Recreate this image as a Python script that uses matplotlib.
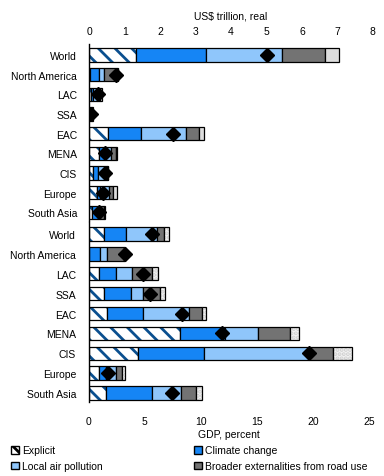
import numpy as np
import matplotlib.pyplot as plt
from matplotlib.patches import Patch

plt.rcParams['font.family'] = ['Liberation Sans', 'DejaVu Sans']
plt.rcParams['font.size'] = 7.5
plt.rcParams['hatch.linewidth'] = 2.0

regions = ["World", "North America", "LAC", "SSA", "EAC", "MENA", "CIS",
           "Europe", "South Asia"]

# top panel: US$ trillion, real
explicit_usd = [1.31, 0.02, 0.03, 0.01, 0.53, 0.28, 0.10, 0.21, 0.07]
climate_usd = [1.98, 0.24, 0.08, 0.03, 0.93, 0.17, 0.14, 0.09, 0.17]
local_usd = [2.15, 0.14, 0.09, 0.02, 1.26, 0.17, 0.26, 0.25, 0.07]
broader_usd = [1.21, 0.40, 0.11, 0.02, 0.37, 0.12, 0.02, 0.12, 0.09]
other_usd = [0.40, 0.01, 0.05, 0.01, 0.14, 0.03, 0.01, 0.10, 0.03]
marker_usd = [5.00, 0.74, 0.24, 0.05, 2.36, 0.45, 0.43, 0.37, 0.27]

# bottom panel: GDP, percent
explicit_pct = [1.33, 0.05, 0.95, 1.33, 1.65, 8.17, 4.40, 0.95, 1.50]
climate_pct = [2.02, 0.98, 1.45, 2.47, 3.15, 4.01, 5.87, 0.60, 4.13]
local_pct = [2.70, 0.62, 1.48, 1.07, 4.10, 2.94, 9.33, 0.85, 2.56]
broader_pct = [0.69, 1.52, 1.78, 1.46, 1.20, 2.81, 2.16, 0.59, 1.36]
other_pct = [0.44, 0.02, 0.53, 0.50, 0.37, 0.80, 1.69, 0.27, 0.50]
marker_pct = [5.63, 3.26, 4.80, 5.50, 8.33, 11.86, 19.60, 1.72, 7.41]

hatch_col = "#0a4f8f"
blue = "#1585f5"
light_blue = "#8fc6fb"
dark_gray = "#737373"

fig = plt.figure(figsize=(3.84, 4.77), dpi=100)
ax_top = fig.add_axes([0.233, 0.5346, 0.7377, 0.371])
ax_bot = fig.add_axes([0.231, 0.155, 0.7308, 0.3775])

y = np.arange(len(regions))
h = 0.68


def draw_panel(ax, segs, marks, last_col, last_hatch):
    left = np.zeros(len(regions))
    # explicit: hatched
    ax.barh(y, segs[0], h, left=left, color="white", edgecolor=hatch_col,
            hatch="\\\\", linewidth=0)
    ax.barh(y, segs[0], h, left=left, fill=False, edgecolor="black",
            linewidth=0.9)
    left = left + np.array(segs[0])
    for vals, col in zip(segs[1:4], [blue, light_blue, dark_gray]):
        ax.barh(y, vals, h, left=left, color=col, edgecolor="black",
                linewidth=0.9)
        left = left + np.array(vals)
    if last_hatch:
        ax.barh(y, segs[4], h, left=left, color=last_col, edgecolor="#cfcfcf",
                hatch="....", linewidth=0)
        ax.barh(y, segs[4], h, left=left, fill=False, edgecolor="black",
                linewidth=0.9)
    else:
        ax.barh(y, segs[4], h, left=left, color=last_col, edgecolor="black",
                linewidth=0.9)
    ax.plot(marks, y, "D", color="black", markersize=7, zorder=5)
    for s in ["top", "right", "bottom"]:
        ax.spines[s].set_visible(False)
    ax.spines["left"].set_linewidth(1.0)
    ax.set_yticks(y)
    ax.set_yticklabels(regions)
    ax.tick_params(axis="y", length=0, pad=9)
    ax.tick_params(axis="x", length=0)


draw_panel(ax_top, [explicit_usd, climate_usd, local_usd, broader_usd, other_usd],
           marker_usd, "#dddddd", False)
ax_top.set_xlim(0, 8)
ax_top.set_ylim(8.44, -0.56)
ax_top.xaxis.tick_top()
ax_top.xaxis.set_label_position("top")
ax_top.set_xticks(range(0, 9))
ax_top.tick_params(axis="x", pad=6)
ax_top.set_xlabel("US$ trillion, real", labelpad=5)

draw_panel(ax_bot, [explicit_pct, climate_pct, local_pct, broader_pct, other_pct],
           marker_pct, "#f3f3f3", True)
ax_bot.set_xlim(0, 25)
ax_bot.set_ylim(8.45, -0.6)
ax_bot.set_xticks(range(0, 26, 5))
ax_bot.tick_params(axis="x", pad=10)
ax_bot.set_xlabel("GDP, percent", labelpad=2)

# column-major order so rows read: Explicit / Climate change, Local / Broader
handles = [
    Patch(facecolor="white", edgecolor="black", hatch="\\\\\\", label="Explicit"),
    Patch(facecolor=light_blue, edgecolor="black", label="Local air pollution"),
    Patch(facecolor=blue, edgecolor="black", label="Climate change"),
    Patch(facecolor=dark_gray, edgecolor="black",
          label="Broader externalities from road use"),
]
fig.legend(handles=handles, ncol=2, loc="upper left",
           bbox_to_anchor=(0.015, 0.075), frameon=False,
           handlelength=0.75, handleheight=0.75, handletextpad=0.3,
           columnspacing=8.8, labelspacing=0.55, borderpad=0)

fig.savefig("out.png", dpi=100)
